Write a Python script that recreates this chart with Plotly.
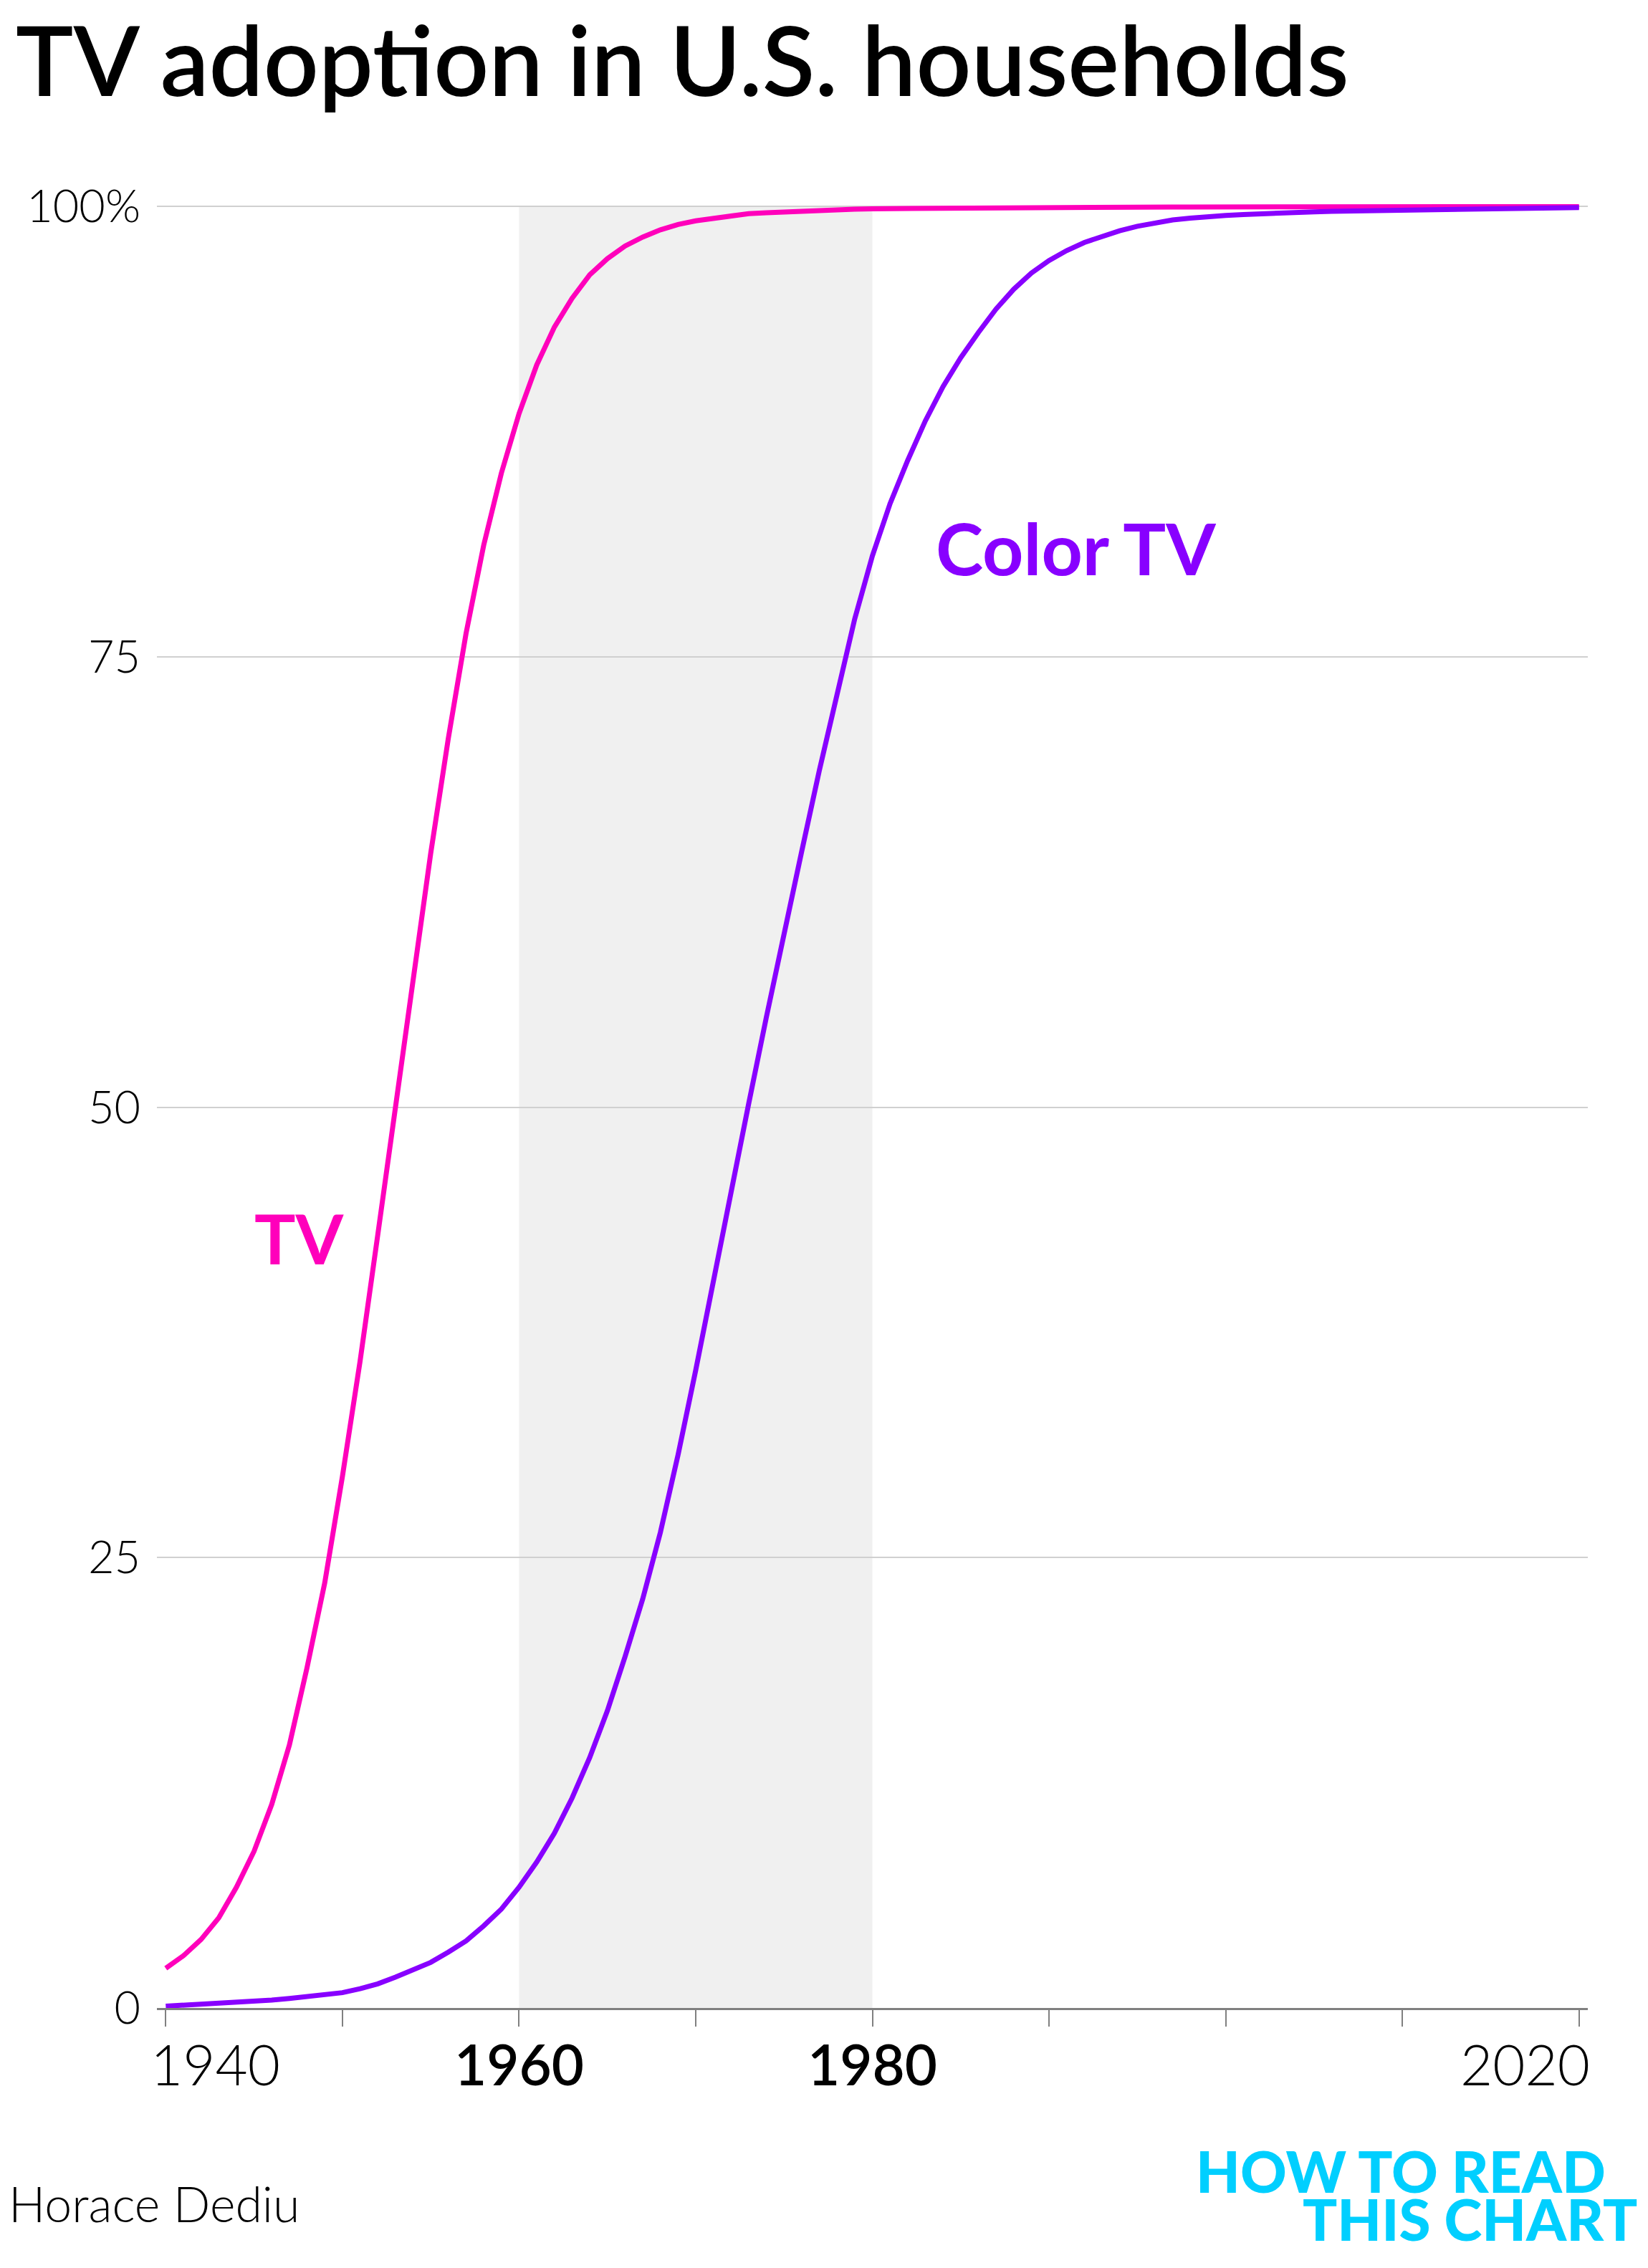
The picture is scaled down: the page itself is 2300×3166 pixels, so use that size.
import plotly.graph_objects as go

# share of U.S. households, percent, one value per year 1940-2020
years = list(range(1940, 2021))

tv = [
    2.2, 2.9, 3.8, 5.0, 6.7, 8.7, 11.3, 14.6, 18.9, 23.6,            # 1940s
    29.5, 35.9, 42.9, 50.0, 57.0, 64.1, 70.5, 76.3, 81.2, 85.2,      # 1950s
    88.5, 91.2, 93.3, 94.9, 96.2, 97.1, 97.8, 98.3, 98.7, 99.0,      # 1960s
    99.2, 99.35, 99.5, 99.6, 99.65, 99.7, 99.75, 99.8, 99.82, 99.85,  # 1970s
    99.87, 99.88, 99.89, 99.9, 99.91, 99.92, 99.92, 99.93, 99.93, 99.94,
    99.94, 99.95, 99.95, 99.96, 99.96, 99.96, 99.97, 99.97, 99.97, 99.97,
    99.98, 99.98, 99.98, 99.98, 99.98, 99.98, 99.98, 99.98, 99.98, 99.98,
    99.98, 99.99, 99.99, 99.99, 99.99, 99.99, 99.99, 99.99, 99.99, 99.99, 99.99,
]

color_tv = [
    0.1, 0.15, 0.2, 0.25, 0.3, 0.37, 0.44, 0.53, 0.62, 0.73,          # 1940s
    0.85, 1.07, 1.34, 1.71, 2.11, 2.53, 3.1, 3.72, 4.56, 5.49,        # 1950s
    6.7, 8.1, 9.7, 11.65, 13.9, 16.5, 19.5, 22.7, 26.4, 30.7,         # 1960s
    35.4, 40.4, 45.1, 50.2, 55.0, 59.7, 64.2, 68.7, 73.0, 77.1,       # 1970s
    80.6, 83.5, 85.9, 88.1, 90.0, 91.6, 93.0, 94.3, 95.4, 96.3,       # 1980s
    97.0, 97.55, 98.0, 98.35, 98.65, 98.9, 99.1, 99.25, 99.35, 99.45, # 1990s
    99.5, 99.55, 99.6, 99.65, 99.68, 99.7, 99.73, 99.75, 99.77, 99.79,
    99.8, 99.82, 99.84, 99.86, 99.88, 99.89, 99.9, 99.91, 99.92, 99.93, 99.94,
]

y_ticks = [0, 25, 50, 75, 100]
y_tick_text = ["0", "25", "50", "75", "100%"]
x_ticks = list(range(1940, 2021, 10))

PINK = "#ff00bb"
PURPLE = "#8800ff"
CYAN = "#00cfff"
FONT = "Lato"

# canvas and plot-area (pixels)
W, H = 2300, 3166
L, R, T, B = 219, 84, 263, 363


def px_x(x):
    return (x - L) / (W - L - R)


def px_y(y):
    return (H - B - y) / (H - T - B)


def text_note(text, x, y, size, color="black", weight=400, xanchor="left",
              xref="paper", yref="paper"):
    return dict(text=text, x=x, y=y, xref=xref, yref=yref, showarrow=False,
                xanchor=xanchor, yanchor="bottom",
                font=dict(family=FONT, size=size, color=color, weight=weight))


fig = go.Figure()

fig.add_trace(go.Scatter(
    x=years, y=tv, mode="lines", name="TV",
    line=dict(color=PINK, width=7)
))
fig.add_trace(go.Scatter(
    x=years, y=color_tv, mode="lines", name="Color TV",
    line=dict(color=PURPLE, width=7)
))

# shaded band 1960-1980
fig.add_shape(type="rect", xref="x", yref="y", x0=1960, x1=1980, y0=0, y1=100,
              fillcolor="#f0f0f0", line=dict(width=0), layer="below")

notes = [
    text_note("TV adoption in U.S. households", px_x(20), px_y(165), 135, weight=600),
    text_note("Horace Dediu", px_x(10), px_y(3118), 68, weight=300),
    text_note("HOW TO READ", px_x(2243), px_y(3080), 80, CYAN, 900, "right"),
    text_note("THIS CHART", px_x(2287), px_y(3147), 80, CYAN, 900, "right"),
    # x tick labels (end labels hug the axis ends)
    text_note("1940", px_x(208), px_y(2930), 78, weight=300),
    text_note("1960", 1960, px_y(2930), 78, weight=600, xanchor="center", xref="x"),
    text_note("1980", 1980, px_y(2930), 78, weight=600, xanchor="center", xref="x"),
    text_note("2020", px_x(2221), px_y(2930), 78, weight=300, xanchor="right"),
    # series labels
    text_note("TV", 1944.95, 40.4, 96, PINK, 700, xref="x", yref="y"),
    text_note("Color TV", 1983.5, 78.6, 100, PURPLE, 700, xref="x", yref="y"),
]

fig.update_layout(
    width=W, height=H,
    margin=dict(l=L, r=R, t=T, b=B, autoexpand=False),
    paper_bgcolor="white",
    plot_bgcolor="white",
    showlegend=False,
    font=dict(family=FONT, color="black"),
    annotations=notes,
    xaxis=dict(
        range=[1939.5, 2020.5],
        tickvals=x_ticks,
        showticklabels=False,
        ticks="outside", ticklen=23, tickwidth=2, tickcolor="#808080",
        showline=True, linecolor="#808080", linewidth=2.5,
        showgrid=False, zeroline=False, automargin=False,
    ),
    yaxis=dict(
        range=[0, 101],
        tickvals=y_ticks,
        ticktext=y_tick_text,
        ticks="",
        ticklabelstandoff=22,
        tickfont=dict(family=FONT, size=63, color="black", weight=300),
        showgrid=True, gridcolor="#d0d0d0", gridwidth=1.5,
        zeroline=False, showline=False, automargin=False,
    ),
)

# page body margin would push the figure 8px off the canvas origin
fig.write_html("out.html", config={"displayModeBar": False},
               post_script="document.body.style.margin = '0';")
